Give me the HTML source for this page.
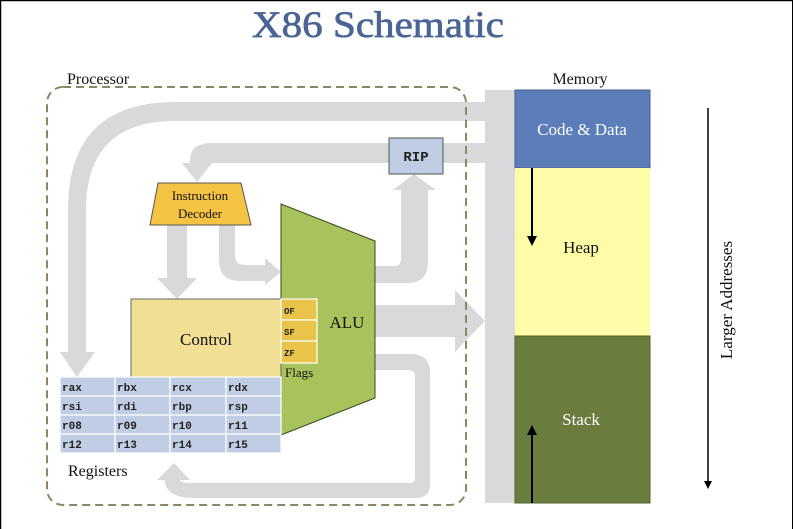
<!DOCTYPE html>
<html><head><meta charset="utf-8"><style>
html,body{margin:0;padding:0;background:#fff;}
svg{display:block;}
text{font-family:"Liberation Serif",serif;}
text.m,.m text{font-family:"Liberation Mono",monospace;font-size:11px;font-weight:bold;fill:#222;}
</style></head><body>
<svg width="793" height="529" viewBox="0 0 793 529" xmlns="http://www.w3.org/2000/svg">
<rect x="0" y="0" width="793" height="529" fill="#fff"/>
<line x1="0" y1="0.5" x2="793" y2="0.5" stroke="#000" stroke-width="1.5"/>
<line x1="0.5" y1="0" x2="0.5" y2="529" stroke="#000" stroke-width="1.5"/>
<line x1="792.5" y1="0" x2="792.5" y2="529" stroke="#000" stroke-width="1"/>
<text x="378" y="37" text-anchor="middle" font-size="37" fill="#4b6496" stroke="#4b6496" stroke-width="0.7" textLength="252" lengthAdjust="spacingAndGlyphs">X86 Schematic</text>

<g fill="#d9d9db">
<rect x="485" y="90" width="30" height="413"/>
<path d="M485 102 L175 102 Q68 102 68 210 L68 352 L60 352 L77 377 L95 352 L86 352 L86 210 Q86 121 175 121 L485 121 Z"/>
<path d="M485 143 L212 143 Q190 143 190 160 L190 163 L182 163 L197 182 L212 163 L205 163 Q205 163 212 163 L485 163 Z"/>
<path d="M167 225 L187 225 L187 278 L197 278 L177 299 L157 278 L167 278 Z"/>
<path d="M219 225 L235 225 L235 255 Q235 265 245 265 L265 265 L265 258 L281 272 L265 285 L265 281 L240 281 Q219 281 219 260 Z"/>
<path d="M375 266 L395 266 Q401 266 401 258 L401 190 L393 190 L414 174 L436 190 L428 190 L428 262 Q428 283 408 283 L375 283 Z"/>
<path d="M375 305 L455 305 L455 290 L485 321 L455 352 L455 337 L375 337 Z"/>
<path d="M375 354 L410 354 Q430 354 430 372 L430 485 Q430 498 415 498 L195 498 Q165 498 165 480 L165 480 L157 480 L174 463 L190 480 L180 480 Q180 483 195 483 L410 483 Q415 483 415 478 L415 376 Q415 370 408 370 L375 370 Z"/>
</g>

<rect x="47" y="87" width="419" height="418" rx="16" ry="16" fill="none" stroke="#8d8665" stroke-width="2" stroke-dasharray="8,5"/>
<text x="67" y="84" font-size="16" fill="#111">Processor</text>

<rect x="389" y="138" width="54" height="36" fill="#c0cce3" stroke="#555" stroke-width="1"/>
<text x="416" y="161" text-anchor="middle" class="m" style="font-size:14px">RIP</text>

<polygon points="158,183 241,183 251,225 150,225" fill="#f4c343" stroke="#555" stroke-width="1"/>
<text x="200" y="200" text-anchor="middle" font-size="13" fill="#111">Instruction</text>
<text x="200" y="218" text-anchor="middle" font-size="13" fill="#111">Decoder</text>

<polygon points="281,204 375,241 375,398 281,435" fill="#a9c35c" stroke="#3a4a20" stroke-width="1"/>
<text x="347" y="328" text-anchor="middle" font-size="17" fill="#111">ALU</text>

<rect x="131" y="299" width="150" height="78" fill="#f1df93" stroke="#666" stroke-width="1"/>
<text x="206" y="345" text-anchor="middle" font-size="17" fill="#111">Control</text>

<g stroke="#fff" stroke-width="1.2" fill="#e8c54a">
<rect x="281" y="299" width="36" height="21"/>
<rect x="281" y="320" width="36" height="21"/>
<rect x="281" y="341" width="36" height="22"/>
</g>
<text x="284" y="314" class="m" style="font-size:9px">OF</text>
<text x="284" y="335" class="m" style="font-size:9px">SF</text>
<text x="284" y="356" class="m" style="font-size:9px">ZF</text>
<text x="285" y="377" font-size="13" fill="#111">Flags</text>

<g fill="#c1cde4" stroke="#fff" stroke-width="1.2">
<rect x="60" y="377" width="55" height="19"/><rect x="115" y="377" width="55" height="19"/><rect x="170" y="377" width="56" height="19"/><rect x="226" y="377" width="55" height="19"/>
<rect x="60" y="396" width="55" height="19"/><rect x="115" y="396" width="55" height="19"/><rect x="170" y="396" width="56" height="19"/><rect x="226" y="396" width="55" height="19"/>
<rect x="60" y="415" width="55" height="19"/><rect x="115" y="415" width="55" height="19"/><rect x="170" y="415" width="56" height="19"/><rect x="226" y="415" width="55" height="19"/>
<rect x="60" y="434" width="55" height="19"/><rect x="115" y="434" width="55" height="19"/><rect x="170" y="434" width="56" height="19"/><rect x="226" y="434" width="55" height="19"/>
</g>
<g class="m">
<text x="62" y="391">rax</text><text x="117" y="391">rbx</text><text x="172" y="391">rcx</text><text x="228" y="391">rdx</text>
<text x="62" y="410">rsi</text><text x="117" y="410">rdi</text><text x="172" y="410">rbp</text><text x="228" y="410">rsp</text>
<text x="62" y="429">r08</text><text x="117" y="429">r09</text><text x="172" y="429">r10</text><text x="228" y="429">r11</text>
<text x="62" y="448">r12</text><text x="117" y="448">r13</text><text x="172" y="448">r14</text><text x="228" y="448">r15</text>
</g>
<text x="68" y="476" font-size="16" fill="#111">Registers</text>

<text x="580" y="84" text-anchor="middle" font-size="16" fill="#111">Memory</text>
<rect x="515" y="90" width="135" height="78" fill="#5b7dba" stroke="#4a5f8a" stroke-width="1"/>
<rect x="515" y="168" width="135" height="168" fill="#fefca6"/>
<rect x="515" y="336" width="135" height="167" fill="#6a7d3f" stroke="#55622f" stroke-width="1"/>
<text x="582" y="135" text-anchor="middle" font-size="17" fill="#fff">Code &amp; Data</text>
<text x="581" y="253" text-anchor="middle" font-size="17" fill="#111">Heap</text>
<text x="581" y="425" text-anchor="middle" font-size="17" fill="#fff">Stack</text>
<line x1="532" y1="168" x2="532" y2="238" stroke="#000" stroke-width="2"/>
<polygon points="527,236 537,236 532,246" fill="#000"/>
<line x1="532" y1="503" x2="532" y2="433" stroke="#000" stroke-width="2"/>
<polygon points="527,435 537,435 532,425" fill="#000"/>

<line x1="708" y1="108" x2="708" y2="482" stroke="#000" stroke-width="1.5"/>
<polygon points="704,481 712,481 708,489" fill="#000"/>
<text transform="translate(732,300) rotate(-90)" text-anchor="middle" font-size="17" fill="#111">Larger Addresses</text>
</svg>
</body></html>
